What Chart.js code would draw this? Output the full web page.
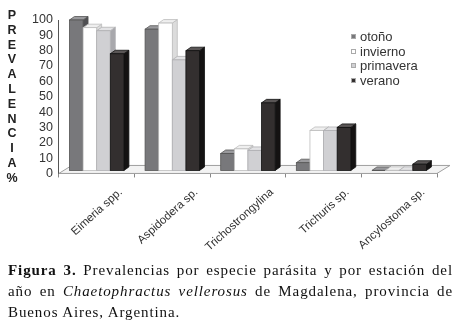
<!DOCTYPE html>
<html>
<head>
<meta charset="utf-8">
<script src="https://cdn.jsdelivr.net/npm/chart.js@4.4.0/dist/chart.umd.min.js"></script>
<style>
  body { margin: 0; background: #fff; width: 460px; height: 331px; overflow: hidden; position: relative; }
  #wrap { position: absolute; left: 0; top: 0; width: 460px; height: 264px; }
  #ytitle { position: absolute; left: 4px; top: 8px; width: 16px; font: bold 12.5px "Liberation Sans", Arial, sans-serif; color: #222; text-align: center; line-height: 14.8px; }
  #legend { position: absolute; left: 351px; top: 30px; font: 13px "Liberation Sans", Arial, sans-serif; color: #333; line-height: 14.5px; }
  #legend span.box { display: inline-block; width: 5px; height: 5px; margin-right: 4px; vertical-align: 2px; border: 1px solid #aaa; box-sizing: border-box; }
  #caption { position: absolute; left: 8px; top: 260px; width: 445px; font: 15px "Liberation Serif", "Times New Roman", serif; letter-spacing: 0.9px; color: #111; line-height: 21px; text-align: justify; }
</style>
</head>
<body>
<div id="wrap"><canvas id="chart" width="460" height="264"></canvas></div>
<div id="ytitle"></div>
<div id="legend"></div>
<div id="caption"><b>Figura 3.</b> Prevalencias por especie parásita y por estación del año en <i>Chaetophractus vellerosus</i> de Magdalena, provincia de Buenos Aires, Argentina.</div>
<script>
const categories = ['Eimeria spp.', 'Aspidodera sp.', 'Trichostrongylina', 'Trichuris sp.', 'Ancylostoma sp.'];
const seasons = ['otoño', 'invierno', 'primavera', 'verano'];
const otono = [100, 94, 13, 7, 1.5];
const invierno = [95, 98, 16, 28, 2];
const primavera = [93, 74, 15, 28, 2];
const verano = [78, 80, 46, 30, 6];
const yTitle = ['P', 'R', 'E', 'V', 'A', 'L', 'E', 'N', 'C', 'I', 'A', '%'];

// front, side, top, outline
const shades = [
  ['#78787b', '#4f4f52', '#9a9a9d', '#555'],
  ['#ffffff', '#dcdcdc', '#efefef', '#bdbdbd'],
  ['#d0d0d3', '#a8a8ac', '#e3e3e5', '#b0b0b3'],
  ['#332f2f', '#141212', '#5a5656', '#111']
];

document.getElementById('ytitle').innerHTML = yTitle.map(c => '<div>' + c + '</div>').join('');
document.getElementById('legend').innerHTML = seasons.map((s, i) =>
  '<div><span class="box" style="background:' + shades[i][0] + '"></span>' + s + '</div>').join('');

const DX = 5, DY = 3.5;

const bars3d = {
  id: 'bars3d',
  beforeDatasetsDraw(chart) {
    const { ctx, chartArea: a } = chart;
    ctx.save();
    ctx.fillStyle = '#f3f3f3';
    ctx.strokeStyle = '#a0a0a0';
    ctx.lineWidth = 1;
    ctx.beginPath();
    ctx.moveTo(a.left, a.bottom);
    ctx.lineTo(a.right, a.bottom);
    ctx.lineTo(a.right + 13, a.bottom - 8);
    ctx.lineTo(a.left + 13, a.bottom - 8);
    ctx.closePath();
    ctx.fill();
    ctx.stroke();
    ctx.restore();
  },
  afterDatasetsDraw(chart) {
    const ctx = chart.ctx;
    const metas = chart.data.datasets.map((d, i) => chart.getDatasetMeta(i));
    ctx.save();
    ctx.lineWidth = 0.8;
    for (let c = 0; c < categories.length; c++) {
      metas.forEach((m, s) => {
        const b = m.data[c];
        const bot = b.base - 3;
        const l = b.x - b.width / 2, r = b.x + b.width / 2, t = Math.min(b.y, bot);
        const sh = shades[s];
        ctx.strokeStyle = sh[3];
        // side face
        ctx.fillStyle = sh[1];
        ctx.beginPath();
        ctx.moveTo(r, t); ctx.lineTo(r + DX, t - DY); ctx.lineTo(r + DX, bot - DY); ctx.lineTo(r, bot);
        ctx.closePath(); ctx.fill(); ctx.stroke();
        // top face
        ctx.fillStyle = sh[2];
        ctx.beginPath();
        ctx.moveTo(l, t); ctx.lineTo(r, t); ctx.lineTo(r + DX, t - DY); ctx.lineTo(l + DX, t - DY);
        ctx.closePath(); ctx.fill(); ctx.stroke();
        // front face
        ctx.fillStyle = sh[0];
        ctx.fillRect(l, t, r - l, bot - t);
        ctx.strokeRect(l, t, r - l, bot - t);
      });
    }
    ctx.restore();
  }
};

const series = [otono, invierno, primavera, verano];

new Chart(document.getElementById('chart'), {
  type: 'bar',
  data: {
    labels: categories,
    datasets: series.map((vals, i) => ({
      label: seasons[i],
      data: vals,
      backgroundColor: 'rgba(0,0,0,0)',
      borderWidth: 0
    }))
  },
  options: {
    responsive: false,
    animation: false,
    categoryPercentage: 0.72,
    barPercentage: 1.0,
    layout: { padding: { left: 26, right: 23, top: 20, bottom: 2 } },
    plugins: { legend: { display: false }, tooltip: { enabled: false } },
    scales: {
      x: {
        grid: { display: true, drawOnChartArea: false, drawTicks: true, tickLength: 4, color: '#888', offset: true },
        border: { display: true, color: '#777' },
        ticks: { color: '#333', font: { family: 'Liberation Sans', size: 11.5 }, maxRotation: 42, minRotation: 42, padding: 8, labelOffset: 24 }
      },
      y: {
        min: 0, max: 100,
        grid: { display: false, drawTicks: false },
        border: { display: true, color: '#555' },
        ticks: { stepSize: 10, autoSkip: false, color: '#333', font: { family: 'Liberation Sans', size: 12.5 }, padding: 6 }
      }
    }
  },
  plugins: [bars3d]
});
</script>
</body>
</html>
